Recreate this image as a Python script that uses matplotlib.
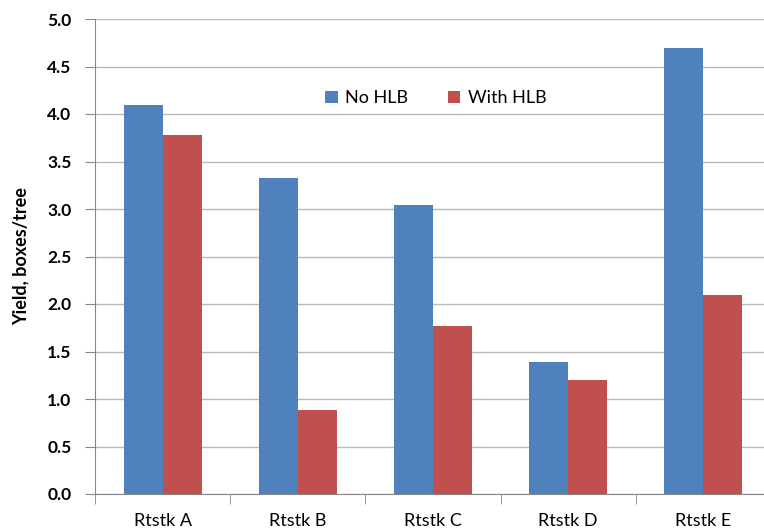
import matplotlib
matplotlib.use("Agg")
import matplotlib.pyplot as plt
import numpy as np

categories = ["Rtstk A", "Rtstk B", "Rtstk C", "Rtstk D", "Rtstk E"]
no_hlb = [4.09, 3.33, 3.04, 1.39, 4.69]
with_hlb = [3.78, 0.88, 1.77, 1.20, 2.10]
series_names = ["No HLB", "With HLB"]
colors = ["#4F81BD", "#C0504D"]

plt.rcParams['font.family'] = ['Lato', 'DejaVu Sans']

fig = plt.figure(figsize=(7.64, 5.32), dpi=100)
W, H = 764, 532
ax_left, ax_right = 95, 771
ax_top, ax_bottom = 19, 494
ax = fig.add_axes([ax_left / W, 1 - ax_bottom / H, (ax_right - ax_left) / W, (ax_bottom - ax_top) / H])

x = np.arange(len(categories))
bw = 0.288
ax.bar(x - bw / 2, no_hlb, width=bw, color=colors[0], label=series_names[0], zorder=3)
ax.bar(x + bw / 2, with_hlb, width=bw, color=colors[1], label=series_names[1], zorder=3)

ax.set_xlim(-0.5, len(categories) - 0.5)
ax.set_ylim(0, 5.0)
ax.set_yticks(np.arange(0, 5.01, 0.5))
ax.set_yticklabels([f"{v:.1f}" for v in np.arange(0, 5.01, 0.5)], fontweight='bold', fontsize=12.5)
ax.grid(axis='y', color='#B8B8B8', linewidth=1, zorder=0)
ax.set_xticks(x)
ax.set_xticklabels(categories, fontsize=13)
ax.set_xticks(np.arange(-0.5, len(categories)), minor=True)
ax.tick_params(axis='x', which='major', length=0, pad=14)
ax.tick_params(axis='x', which='minor', length=7, color='#888888')
ax.tick_params(axis='y', length=7, color='#888888', pad=10)
for s in ['top', 'right']:
    ax.spines[s].set_visible(False)
for s in ['left', 'bottom']:
    ax.spines[s].set_color('#888888')
ax.set_ylabel("Yield, boxes/tree", fontweight='bold', fontsize=13, labelpad=13)

ax.legend(loc='upper left', bbox_to_anchor=((318 - ax_left) / (ax_right - ax_left), 1 - (83 - ax_top) / (ax_bottom - ax_top)),
          ncol=2, frameon=False, fontsize=13, handlelength=0.7, handleheight=0.7,
          columnspacing=2.2, handletextpad=0.4, borderaxespad=0)

fig.savefig("out.png", dpi=100)
